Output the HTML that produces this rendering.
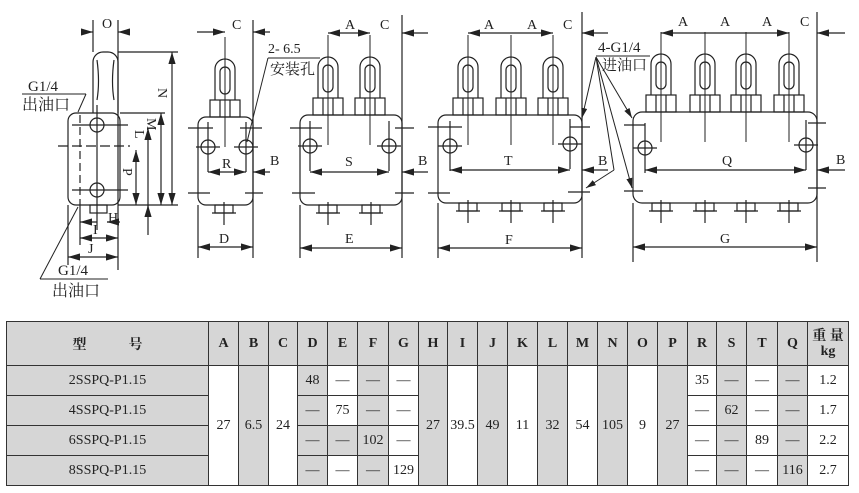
<!DOCTYPE html>
<html><head><meta charset="utf-8"><style>
body{margin:0;background:#fff;width:859px;height:493px;overflow:hidden;position:relative;font-family:"Liberation Serif","Noto Serif CJK SC",serif}
svg{position:absolute;left:0;top:0}
table{position:absolute;left:6px;top:321px;border-collapse:collapse;font-size:14px;color:#222}
td{border:1px solid #333;text-align:center;padding:0;background:#d6d6d6}
td.w{background:#fff}
tr.h td{height:43px;font-weight:bold}
tr.r td{height:29px}
</style></head><body>
<svg width="859" height="300" viewBox="0 0 859 300" fill="none" stroke="#222" stroke-width="1.2" font-family="Liberation Serif, Noto Serif CJK SC, serif" font-size="14">
<defs>
<marker id="ar" viewBox="0 0 10 6" refX="10" refY="3" markerWidth="10" markerHeight="6" orient="auto-start-reverse"><path d="M0,0 L10,3 L0,6z" fill="#222" stroke="none"/></marker>
<g id="stem">
<rect x="-15" y="-17" width="30" height="17"/><line x1="-5" y1="-17" x2="-5" y2="0"/><line x1="5" y1="-17" x2="5" y2="0"/>
<path d="M-10,-17 V-48 A10,10 0 0 1 10,-48 V-17"/>
<rect x="-5" y="-50" width="10" height="27" rx="5"/>
<line x1="0" y1="-80" x2="0" y2="30" stroke-width="1"/>
</g>
<g id="nub"><rect x="-9" y="0" width="18" height="8"/><line x1="0" y1="-3" x2="0" y2="20"/><line x1="-12" y1="8" x2="12" y2="8"/></g>
<g id="hole"><circle r="7"/><line x1="-12" y1="0" x2="12" y2="0"/><line x1="0" y1="-25" x2="0" y2="25"/></g>
</defs>
<!-- view1 -->
<rect x="68" y="113" width="52" height="92" rx="8"/>
<path d="M93,113 V62 A10,10 0 0 1 103,52 H108 A10,10 0 0 1 118,62 V113"/>
<path d="M97,60 Q100,82 97,100 M114,60 Q111,82 114,100"/>
<rect x="90" y="205" width="17" height="8"/>
<circle cx="97" cy="125" r="7"/><circle cx="97" cy="190" r="7"/>
<line x1="72" y1="125" x2="128" y2="125"/><line x1="72" y1="190" x2="128" y2="190"/>
<line x1="97" y1="105" x2="97" y2="230"/>
<line x1="58" y1="146" x2="130" y2="146" stroke-dasharray="10 4"/>
<line x1="80" y1="115" x2="80" y2="205" stroke-dasharray="8 4"/>
<line x1="93" y1="20" x2="93" y2="52"/><line x1="118" y1="20" x2="118" y2="270"/>
<line x1="85" y1="32" x2="93" y2="32" marker-end="url(#ar)"/><line x1="130" y1="32" x2="118" y2="32" marker-end="url(#ar)"/>
<text x="102" y="28" stroke="none" fill="#222">O</text>
<line x1="118" y1="52" x2="178" y2="52"/><line x1="120" y1="113" x2="165" y2="113"/><line x1="118" y1="205" x2="178" y2="205"/>
<line x1="172" y1="52" x2="172" y2="205" marker-start="url(#ar)" marker-end="url(#ar)"/>
<line x1="161" y1="113" x2="161" y2="205" marker-start="url(#ar)" marker-end="url(#ar)"/>
<line x1="148" y1="128" x2="148" y2="190" marker-start="url(#ar)"/><line x1="148" y1="190" x2="148" y2="235"/>
<line x1="148" y1="212" x2="148" y2="205" marker-end="url(#ar)"/>
<line x1="136" y1="150" x2="136" y2="205" marker-start="url(#ar)" marker-end="url(#ar)"/>
<text x="0" y="0" transform="translate(158,88) rotate(90)" stroke="none" fill="#222">N</text>
<text x="0" y="0" transform="translate(147,118) rotate(90)" stroke="none" fill="#222">M</text>
<text x="0" y="0" transform="translate(135,130) rotate(90)" stroke="none" fill="#222">L</text>
<text x="0" y="0" transform="translate(123,168) rotate(90)" stroke="none" fill="#222">P</text>
<line x1="80" y1="222" x2="97" y2="222" marker-start="url(#ar)"/><line x1="110" y1="222" x2="107" y2="222"/><line x1="120" y1="222" x2="107" y2="222" marker-end="url(#ar)"/>
<text x="108" y="222" stroke="none" fill="#222">H</text>
<line x1="80" y1="205" x2="80" y2="245"/>
<line x1="80" y1="238" x2="118" y2="238" marker-start="url(#ar)" marker-end="url(#ar)"/>
<text x="93" y="234" stroke="none" fill="#222">I</text>
<line x1="68" y1="205" x2="68" y2="265"/>
<line x1="68" y1="257" x2="118" y2="257" marker-start="url(#ar)" marker-end="url(#ar)"/>
<text x="88" y="253" stroke="none" fill="#222">J</text>
<text x="28" y="91" stroke="none" fill="#222" font-size="15">G1/4</text>
<line x1="22" y1="94" x2="86" y2="94" stroke-width="1"/><line x1="86" y1="94" x2="78" y2="112" stroke-width="1"/>
<text x="22" y="110" stroke="none" fill="#222" font-size="16">出油口</text>
<text x="58" y="275" stroke="none" fill="#222" font-size="15">G1/4</text>
<line x1="40" y1="279" x2="108" y2="279" stroke-width="1"/><line x1="40" y1="279" x2="78" y2="207" stroke-width="1"/>
<text x="52" y="296" stroke="none" fill="#222" font-size="16">出油口</text>
<!-- view2 -->
<rect x="198" y="117" width="55" height="88" rx="8"/>
<use href="#stem" x="225" y="117"/>
<use href="#nub" x="224" y="205"/>
<use href="#hole" x="208" y="147"/><use href="#hole" x="246" y="147"/>
<line x1="188" y1="128" x2="213" y2="128"/><line x1="240" y1="128" x2="262" y2="128"/>
<line x1="188" y1="193" x2="210" y2="193"/><line x1="245" y1="193" x2="263" y2="193"/>
<line x1="198" y1="205" x2="198" y2="258"/><line x1="253" y1="20" x2="253" y2="258"/>
<line x1="198" y1="247" x2="253" y2="247" marker-start="url(#ar)" marker-end="url(#ar)"/>
<text x="219" y="243" stroke="none" fill="#222">D</text>
<line x1="197" y1="32" x2="225" y2="32" marker-end="url(#ar)"/><line x1="270" y1="32" x2="253" y2="32" marker-end="url(#ar)"/>
<text x="232" y="29" stroke="none" fill="#222">C</text>
<line x1="208" y1="172" x2="246" y2="172" marker-start="url(#ar)" marker-end="url(#ar)"/>
<line x1="270" y1="172" x2="253" y2="172" marker-end="url(#ar)"/>
<text x="222" y="168" stroke="none" fill="#222">R</text><text x="270" y="165" stroke="none" fill="#222">B</text>
<text x="268" y="53" stroke="none" fill="#222">2-  6.5</text>
<line x1="268" y1="58" x2="320" y2="58" stroke-width="1"/><line x1="268" y1="58" x2="247" y2="142" stroke-width="1"/>
<text x="270" y="74" stroke="none" fill="#222" font-size="15">安装孔</text>
<!-- view3 -->
<rect x="300" y="115" width="102" height="90" rx="8"/>
<use href="#stem" x="328" y="115"/><use href="#stem" x="370" y="115"/>
<use href="#nub" x="328" y="205"/><use href="#nub" x="371" y="205"/>
<use href="#hole" x="310" y="146"/><use href="#hole" x="389" y="146"/>
<line x1="290" y1="128" x2="322" y2="128"/><line x1="395" y1="128" x2="414" y2="128"/>
<line x1="292" y1="193" x2="315" y2="193"/><line x1="395" y1="193" x2="414" y2="193"/>
<line x1="300" y1="205" x2="300" y2="258"/><line x1="402" y1="15" x2="402" y2="258"/>
<line x1="328" y1="33" x2="370" y2="33" marker-start="url(#ar)" marker-end="url(#ar)"/>
<line x1="428" y1="33" x2="402" y2="33" marker-end="url(#ar)"/>
<text x="345" y="29" stroke="none" fill="#222">A</text><text x="380" y="29" stroke="none" fill="#222">C</text>
<line x1="310" y1="172" x2="389" y2="172" marker-start="url(#ar)" marker-end="url(#ar)"/>
<line x1="428" y1="172" x2="402" y2="172" marker-end="url(#ar)"/>
<text x="345" y="166" stroke="none" fill="#222">S</text><text x="418" y="165" stroke="none" fill="#222">B</text>
<line x1="300" y1="248" x2="402" y2="248" marker-start="url(#ar)" marker-end="url(#ar)"/>
<text x="345" y="243" stroke="none" fill="#222">E</text>
<!-- view4 -->
<rect x="438" y="115" width="144" height="88" rx="8"/>
<use href="#stem" x="468" y="115"/><use href="#stem" x="511" y="115"/><use href="#stem" x="553" y="115"/>
<use href="#nub" x="468" y="203"/><use href="#nub" x="511" y="203"/><use href="#nub" x="553" y="203"/>
<use href="#hole" x="450" y="146"/><use href="#hole" x="570" y="144"/>
<line x1="428" y1="127" x2="462" y2="127"/><line x1="570" y1="127" x2="590" y2="127"/>
<line x1="428" y1="193" x2="450" y2="193"/><line x1="568" y1="192" x2="590" y2="192"/>
<line x1="438" y1="203" x2="438" y2="258"/><line x1="582" y1="12" x2="582" y2="258"/>
<line x1="468" y1="33" x2="553" y2="33" marker-start="url(#ar)" marker-end="url(#ar)"/>
<line x1="608" y1="33" x2="582" y2="33" marker-end="url(#ar)"/>
<text x="484" y="29" stroke="none" fill="#222">A</text><text x="527" y="29" stroke="none" fill="#222">A</text><text x="563" y="29" stroke="none" fill="#222">C</text>
<line x1="450" y1="170" x2="570" y2="170" marker-start="url(#ar)" marker-end="url(#ar)"/>
<line x1="608" y1="170" x2="582" y2="170" marker-end="url(#ar)"/>
<text x="504" y="165" stroke="none" fill="#222">T</text><text x="598" y="165" stroke="none" fill="#222">B</text>
<line x1="438" y1="248" x2="582" y2="248" marker-start="url(#ar)" marker-end="url(#ar)"/>
<text x="505" y="244" stroke="none" fill="#222">F</text>
<!-- leaders -->
<text x="598" y="52" stroke="none" fill="#222" font-size="15">4-G1/4</text>
<line x1="596" y1="56" x2="650" y2="56" stroke-width="1"/>
<text x="602" y="70" stroke="none" fill="#222" font-size="15">进油口</text>
<g stroke-width="1">
<line x1="596" y1="57" x2="582" y2="118" marker-end="url(#ar)"/>
<line x1="596" y1="57" x2="614" y2="170"/><line x1="614" y1="170" x2="586" y2="188" marker-end="url(#ar)"/>
<line x1="596" y1="57" x2="632" y2="118" marker-end="url(#ar)"/>
<line x1="596" y1="57" x2="632" y2="188" marker-end="url(#ar)"/>
</g>
<!-- view5 -->
<rect x="633" y="112" width="184" height="91" rx="9"/>
<use href="#stem" x="661" y="112"/><use href="#stem" x="705" y="112"/><use href="#stem" x="746" y="112"/><use href="#stem" x="789" y="112"/>
<use href="#nub" x="661" y="203"/><use href="#nub" x="705" y="203"/><use href="#nub" x="746" y="203"/><use href="#nub" x="789" y="203"/>
<use href="#hole" x="645" y="148"/><use href="#hole" x="806" y="145"/>
<line x1="624" y1="125" x2="645" y2="125"/><line x1="808" y1="123" x2="826" y2="123"/>
<line x1="624" y1="191" x2="643" y2="191"/><line x1="808" y1="188" x2="826" y2="188"/>
<line x1="633" y1="203" x2="633" y2="262"/><line x1="817" y1="12" x2="817" y2="262"/>
<line x1="661" y1="33" x2="789" y2="33" marker-start="url(#ar)" marker-end="url(#ar)"/>
<line x1="845" y1="33" x2="817" y2="33" marker-end="url(#ar)"/>
<text x="678" y="26" stroke="none" fill="#222">A</text><text x="720" y="26" stroke="none" fill="#222">A</text><text x="762" y="26" stroke="none" fill="#222">A</text><text x="800" y="26" stroke="none" fill="#222">C</text>
<line x1="645" y1="170" x2="806" y2="170" marker-start="url(#ar)" marker-end="url(#ar)"/>
<line x1="845" y1="170" x2="817" y2="170" marker-end="url(#ar)"/>
<text x="722" y="165" stroke="none" fill="#222">Q</text><text x="836" y="164" stroke="none" fill="#222">B</text>
<line x1="633" y1="247" x2="817" y2="247" marker-start="url(#ar)" marker-end="url(#ar)"/>
<text x="720" y="243" stroke="none" fill="#222">G</text>
<text x="812" y="309" stroke="none" fill="#222" font-size="12">mm</text>
</svg>
<table>
<tr class="h"><td style="width:201px">型　　　号</td><td style="width:29px">A</td><td style="width:29px">B</td><td style="width:28px">C</td><td style="width:29px">D</td><td style="width:29px">E</td><td style="width:30px">F</td><td style="width:29px">G</td><td style="width:28px">H</td><td style="width:29px">I</td><td style="width:29px">J</td><td style="width:29px">K</td><td style="width:29px">L</td><td style="width:29px">M</td><td style="width:29px">N</td><td style="width:29px">O</td><td style="width:29px">P</td><td style="width:28px">R</td><td style="width:29px">S</td><td style="width:30px">T</td><td style="width:29px">Q</td><td style="width:40px;line-height:15px">重 量<br>kg</td></tr>
<tr class="r"><td>2SSPQ-P1.15</td><td class="w" rowspan="4">27</td><td rowspan="4">6.5</td><td class="w" rowspan="4">24</td><td>48</td><td class="w">—</td><td>—</td><td class="w">—</td><td rowspan="4">27</td><td class="w" rowspan="4">39.5</td><td rowspan="4">49</td><td class="w" rowspan="4">11</td><td rowspan="4">32</td><td class="w" rowspan="4">54</td><td rowspan="4">105</td><td class="w" rowspan="4">9</td><td rowspan="4">27</td><td class="w">35</td><td>—</td><td class="w">—</td><td>—</td><td class="w">1.2</td></tr>
<tr class="r"><td>4SSPQ-P1.15</td><td>—</td><td class="w">75</td><td>—</td><td class="w">—</td><td class="w">—</td><td>62</td><td class="w">—</td><td>—</td><td class="w">1.7</td></tr>
<tr class="r"><td>6SSPQ-P1.15</td><td>—</td><td>—</td><td>102</td><td class="w">—</td><td class="w">—</td><td>—</td><td class="w">89</td><td>—</td><td class="w">2.2</td></tr>
<tr class="r"><td>8SSPQ-P1.15</td><td>—</td><td class="w">—</td><td>—</td><td class="w">129</td><td class="w">—</td><td>—</td><td class="w">—</td><td>116</td><td class="w">2.7</td></tr>
</table>
</body></html>
